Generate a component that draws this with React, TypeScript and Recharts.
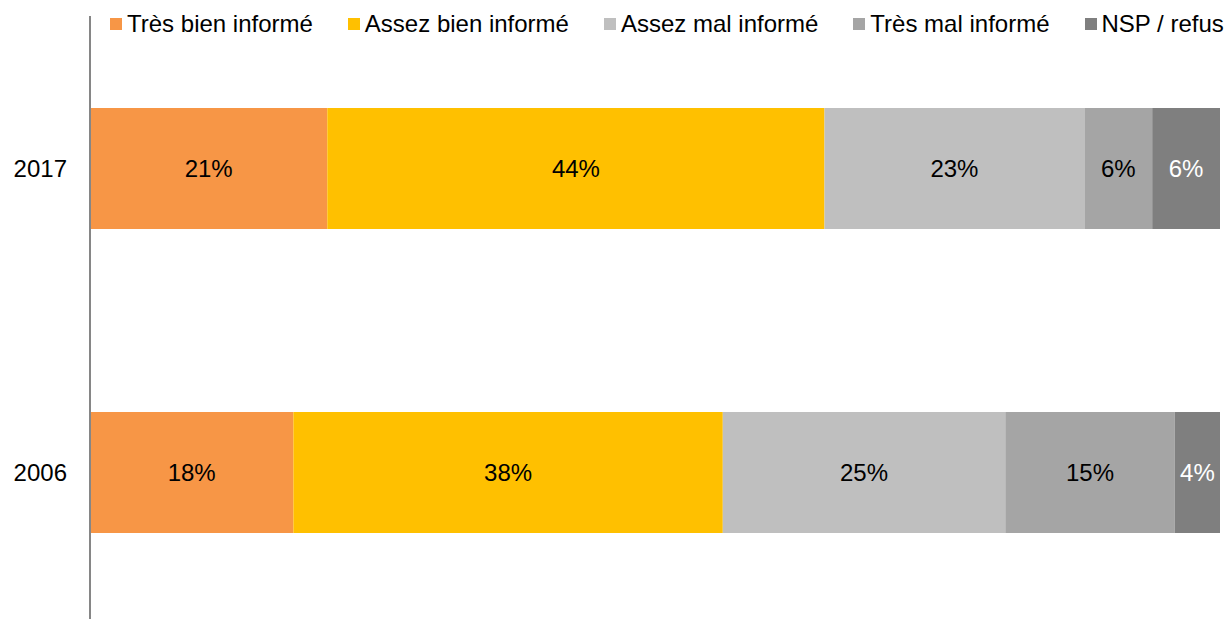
import React from "react"
import { BarChart, Bar, XAxis, YAxis, Legend, LabelList } from "recharts"

const years = ["2017", "2006"]
const seriesNames = [
  "Très bien informé",
  "Assez bien informé",
  "Assez mal informé",
  "Très mal informé",
  "NSP / refus",
]
const tresBien = [21, 18]
const assezBien = [44, 38]
const assezMal = [23, 25]
const tresMal = [6, 15]
const nsp = [6, 4]

const colors = ["#F79646", "#FFC000", "#BFBFBF", "#A5A5A5", "#7F7F7F"]
const labelColors = ["#000", "#000", "#000", "#000", "#fff"]
const keys = ["s0", "s1", "s2", "s3", "s4"]

const seriesValues = [tresBien, assezBien, assezMal, tresMal, nsp]
const data = years.map((year, i) => {
  const row: Record<string, string | number> = { year }
  seriesValues.forEach((vals, j) => {
    row[keys[j]] = vals[i]
  })
  return row
})

const font = "'Liberation Sans', Arial, sans-serif"

function LegendContent() {
  return (
    <div
      style={{
        display: "flex",
        alignItems: "center",
        height: 16,
        fontFamily: font,
        fontSize: 24,
        color: "#000",
        whiteSpace: "nowrap",
      }}
    >
      {seriesNames.map((name, i) => (
        <div key={name} style={{ display: "flex", alignItems: "center", marginRight: 35 }}>
          <span
            style={{
              display: "inline-block",
              width: 12,
              height: 12,
              background: colors[i],
              marginRight: 5,
            }}
          />
          <span style={{ lineHeight: "16px" }}>{name}</span>
        </div>
      ))}
    </div>
  )
}

export default function App() {
  return (
    <div
      style={{
        position: "absolute",
        left: 0,
        top: 0,
        width: 1230,
        height: 619,
        overflow: "hidden",
        background: "#fff",
      }}
    >
      <BarChart
        width={1230}
        height={624}
        data={data}
        layout="vertical"
        margin={{ top: 0, right: 10, bottom: 0, left: 0 }}
      >
        <XAxis type="number" domain={[0, 100]} hide />
        <YAxis
          type="category"
          dataKey="year"
          width={90}
          tickLine={false}
          tickMargin={17}
          axisLine={{ stroke: "#868686", strokeWidth: 2 }}
          tick={{ fill: "#000", fontSize: 24, fontFamily: font }}
        />
        <Legend
          verticalAlign="top"
          align="left"
          content={<LegendContent />}
          wrapperStyle={{ top: 16, left: 110, width: 1120 }}
        />
        {keys.map((k, i) => (
          <Bar
            key={k}
            dataKey={k}
            name={seriesNames[i]}
            stackId="a"
            fill={colors[i]}
            barSize={121}
            isAnimationActive={false}
          >
            <LabelList
              dataKey={k}
              position="center"
              formatter={(v: number) => `${v}%`}
              fill={labelColors[i]}
              style={{ fontSize: 24, fontFamily: font }}
            />
          </Bar>
        ))}
      </BarChart>
    </div>
  )
}
